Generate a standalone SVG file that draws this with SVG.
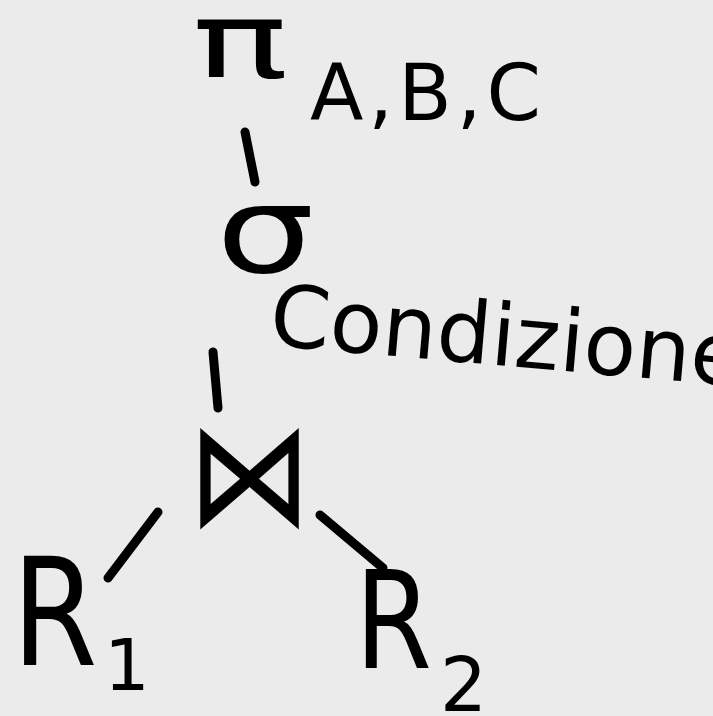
<svg xmlns="http://www.w3.org/2000/svg" width="713" height="716" viewBox="0 0 713 716">
<style>
.t{font-family:"DejaVu Sans","Liberation Sans",sans-serif;fill:#000}
.c{stroke:#000;stroke-width:9;stroke-linecap:round;fill:none}
</style>
<rect width="713" height="716" fill="#ebebeb"/>
<g id="proj">
<text class="t" x="0" y="0" font-size="100" transform="translate(192 77) scale(1.6 1.05)">π</text>
<text class="t" x="310" y="120" font-size="78" letter-spacing="5">A,B,C</text>
</g>
<g id="sel">
<text class="t" x="0" y="0" font-size="115" transform="translate(216 272) scale(1.35 1.05)">σ</text>
<text class="t" x="268" y="345" font-size="86" transform="rotate(5 268 345)">Condizione</text>
</g>
<g id="join">
<text class="t" x="0" y="0" font-size="125" transform="translate(187 525) scale(1 1.18)">⋈</text>
</g>
<g id="r1">
<text class="t" x="0" y="0" font-size="150" transform="translate(12 665) scale(0.82 1)">R</text>
<text class="t" x="104" y="690" font-size="72">1</text>
</g>
<g id="r2">
<text class="t" x="0" y="0" font-size="135" transform="translate(355 668) scale(0.82 1)">R</text>
<text class="t" x="440" y="711" font-size="74">2</text>
</g>
<g id="connectors">
<line class="c" x1="245" y1="132" x2="255" y2="182"/>
<line class="c" x1="213" y1="352" x2="218" y2="408"/>
<line class="c" x1="158" y1="512" x2="108" y2="578"/>
<line class="c" x1="320" y1="515" x2="383" y2="568"/>
</g>
</svg>
